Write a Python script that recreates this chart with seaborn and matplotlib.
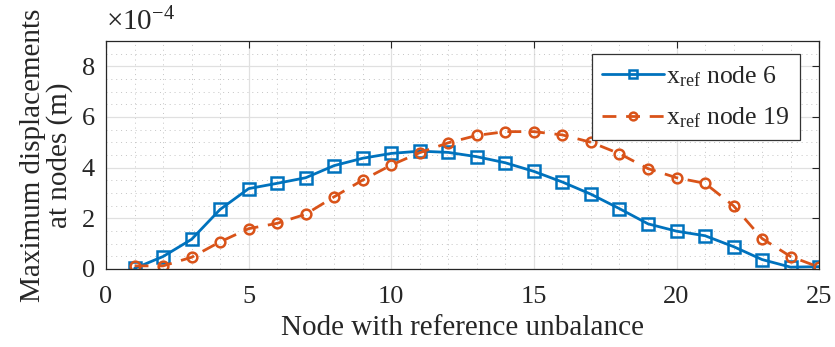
import numpy as np
import pandas as pd
import seaborn as sns
import matplotlib
matplotlib.use("Agg")
import matplotlib.pyplot as plt
from matplotlib.ticker import MultipleLocator

nodes = list(range(1, 26))
# values in units of 1e-4 m
node6 = [0.02, 0.49, 1.17, 2.35, 3.17, 3.38, 3.60, 4.08, 4.37, 4.56, 4.65, 4.60, 4.43,
         4.19, 3.85, 3.43, 2.95, 2.38, 1.78, 1.49, 1.31, 0.88, 0.37, 0.07, 0.09]
node19 = [0.12, 0.12, 0.46, 1.07, 1.59, 1.80, 2.16, 2.85, 3.51, 4.10, 4.59, 4.98, 5.27,
          5.42, 5.42, 5.29, 5.00, 4.55, 3.96, 3.60, 3.38, 2.49, 1.20, 0.49, 0.07]
series_labels = [r"$\mathregular{x_{ref}}$ node 6", r"$\mathregular{x_{ref}}$ node 19"]
xticks = [0, 5, 10, 15, 20, 25]
yticks = [0, 2, 4, 6, 8]

sns.set_theme(style="white")
plt.rcParams["font.family"] = ["Liberation Serif", "DejaVu Serif"]
plt.rcParams["mathtext.fontset"] = "custom"
plt.rcParams["mathtext.rm"] = "Liberation Serif"

df1 = pd.DataFrame({"node": nodes, "val": node6})
df2 = pd.DataFrame({"node": nodes, "val": node19})

fig = plt.figure(figsize=(8.35, 3.47), dpi=100)
ax = fig.add_axes([0.127, 0.225, 0.854, 0.657])

blue = "#0072BD"
orange = "#D95319"

sns.lineplot(data=df1, x="node", y="val", ax=ax, color=blue, lw=2.0,
             marker="s", markersize=8, markerfacecolor="none",
             markeredgecolor=blue, markeredgewidth=1.8, label=series_labels[0])
sns.lineplot(data=df2, x="node", y="val", ax=ax, color=orange, lw=2.0,
             marker="o", markersize=7, markerfacecolor="none",
             markeredgecolor=orange, markeredgewidth=1.8, label=series_labels[1])
ax.lines[1].set_dashes((5, 3.5))

ax.set_xlim(0, 25)
ax.set_ylim(0, 9)
ax.set_xticks(xticks)
ax.set_yticks(yticks)
ax.xaxis.set_minor_locator(MultipleLocator(1))
ax.yaxis.set_minor_locator(MultipleLocator(0.5))
ax.grid(which="major", color="#e0e0e0", lw=0.9, ls="-")
ax.grid(which="minor", color="#c4c4c4", lw=0.7, ls=(0, (1, 4)))
ax.set_axisbelow(True)
ax.tick_params(which="major", direction="in", length=5, width=0.8,
               top=True, right=True, labelsize=19, colors="#262626")
ax.tick_params(axis="x", which="major", pad=12)
ax.tick_params(axis="y", which="major", pad=8)
ax.tick_params(which="minor", length=0, top=True, right=True)
for s in ax.spines.values():
    s.set_color("#262626")
    s.set_linewidth(0.9)

ax.set_xlabel("Node with reference unbalance", fontsize=21, color="#262626", labelpad=5)
ax.set_ylabel("Maximum displacements\nat nodes (m)", fontsize=21, color="#262626",
              linespacing=1.0, labelpad=6)
ax.text(0.0, 1.02, r"$\times\mathregular{10^{-4}}$", transform=ax.transAxes,
        fontsize=21, color="#262626", ha="left", va="bottom")

leg = ax.legend(loc="upper right", bbox_to_anchor=(0.973, 0.943), fontsize=18.5,
                frameon=True, fancybox=False, framealpha=1, edgecolor="#333333",
                handlelength=2.4, handletextpad=0.1, borderpad=0.4,
                labelspacing=0.65, borderaxespad=0, markerscale=0.8)
leg.get_frame().set_linewidth(0.9)

fig.savefig("out.png", dpi=100)
